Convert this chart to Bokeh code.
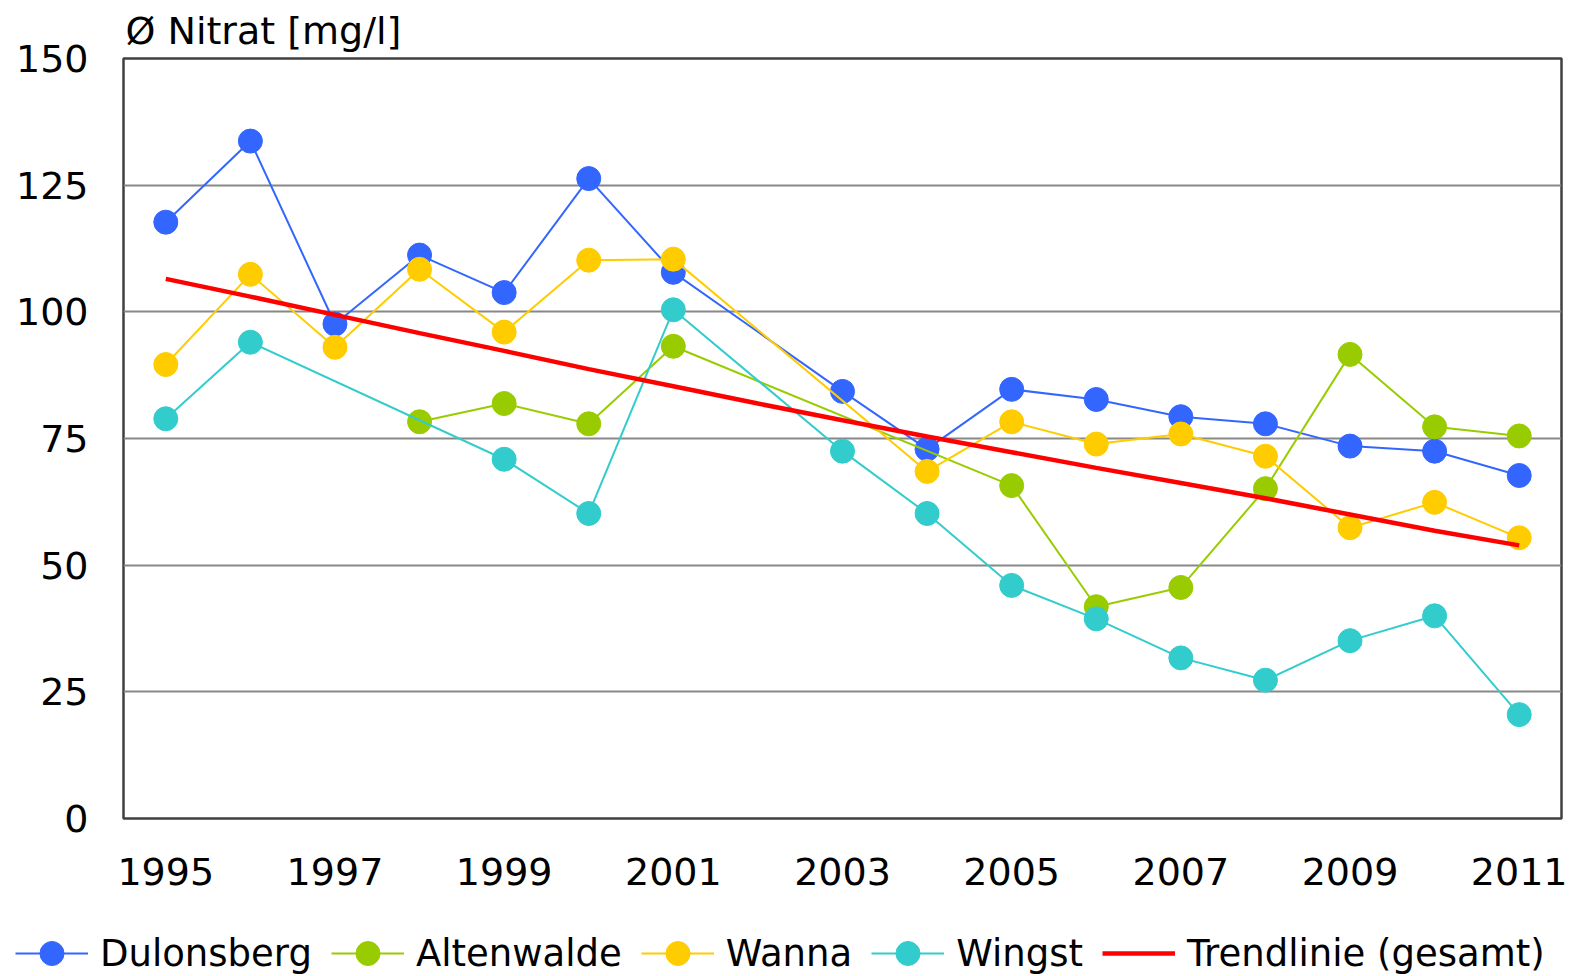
from bokeh.plotting import figure
from bokeh.models import FixedTicker, Legend, LegendItem, Range1d
from bokeh.embed import file_html
from bokeh.resources import INLINE

years = list(range(1995, 2012))
dulonsberg = [117.7, 133.7, 97.6, 111.2, 103.8, 126.3, 107.8, None, 84.3, 72.9, 84.7, 82.7, 79.3, 77.9, 73.5, 72.5, 67.7]
altenwalde = [None, None, None, 78.3, 81.9, 77.9, 93.2, None, None, None, 65.7, 41.8, 45.6, 65.1, 91.6, 77.3, 75.5]
wanna = [89.6, 107.4, 93.0, 108.4, 96.0, 110.2, 110.4, None, None, 68.5, 78.3, 73.9, 75.9, 71.5, 57.4, 62.4, 55.4]
wingst = [78.9, 94.0, None, None, 70.9, 60.2, 100.4, None, 72.5, 60.2, 46.0, 39.4, 31.7, 27.3, 35.1, 40.0, 20.5]
trend = [106.5, 103.0, 99.4, 95.8, 92.3, 88.7, 85.3, 81.9, 78.6, 75.4, 72.3, 69.2, 66.2, 63.2, 60.0, 56.8, 53.9]

series_names = ["Dulonsberg", "Altenwalde", "Wanna", "Wingst"]
series_values = [dulonsberg, altenwalde, wanna, wingst]
series_colors = ["#3366FF", "#99CC00", "#FFCC00", "#33CCCC"]
trend_name = "Trendlinie (gesamt)"
trend_color = "#FF0000"
x_ticks = [1995, 1997, 1999, 2001, 2003, 2005, 2007, 2009, 2011]
y_ticks = [0, 25, 50, 75, 100, 125, 150]
title_text = "\u00d8 Nitrat [mg/l]"

FONT = "DejaVu Sans"
FS = "38px"
W = 1578

p = figure(width=W, height=905, output_backend="svg", toolbar_location=None,
           x_range=Range1d(1994.5, 2011.5), y_range=Range1d(0, 150),
           min_border_left=123, min_border_right=17, min_border_top=58,
           min_border_bottom=87)

p.title.text = title_text
p.title.text_font = FONT
p.title.text_font_size = FS
p.title.text_font_style = "normal"
p.title.text_color = "black"
p.title.align = "left"
p.title.offset = 2
p.title.standoff = 12

p.outline_line_color = "#404040"
p.outline_line_width = 2.5
p.background_fill_color = "white"
p.border_fill_color = "white"

p.xgrid.grid_line_color = None
p.ygrid.grid_line_color = "#888888"
p.ygrid.grid_line_width = 2
p.ygrid.ticker = FixedTicker(ticks=y_ticks)

p.xaxis.ticker = FixedTicker(ticks=x_ticks)
p.yaxis.ticker = FixedTicker(ticks=y_ticks)
for ax in (p.xaxis, p.yaxis):
    ax.axis_line_color = None
    ax.major_tick_line_color = None
    ax.minor_tick_line_color = None
    ax.major_label_text_font = FONT
    ax.major_label_text_font_size = FS
    ax.major_label_text_color = "black"
p.xaxis.major_label_standoff = 33
p.yaxis.major_label_standoff = 29

# legend strip: same series, drawn in a figure whose ranges keep the data out of view
lg = figure(width=W, height=71, output_backend="svg", toolbar_location=None,
            x_range=Range1d(0, 1), y_range=Range1d(0, 1),
            x_axis_location=None, y_axis_location=None,
            min_border=0, min_border_left=0, min_border_right=0,
            min_border_top=0, min_border_bottom=0, outline_line_color=None)
lg.grid.visible = False

items = []
for name, vals, col in zip(series_names, series_values, series_colors):
    xs = [y for y, v in zip(years, vals) if v is not None]
    ys = [v for v in vals if v is not None]
    p.line(xs, ys, line_color=col, line_width=2)
    p.scatter(xs, ys, size=24, marker="circle", fill_color=col, line_color=col)
    lr = lg.line(xs, ys, line_color=col, line_width=2)
    sr = lg.scatter(xs, ys, size=24, marker="circle", fill_color=col, line_color=col)
    items.append(LegendItem(label=name, renderers=[lr, sr]))

p.line(years, trend, line_color=trend_color, line_width=4.5)
tr = lg.line(years, trend, line_color=trend_color, line_width=4.5)
items.append(LegendItem(label=trend_name, renderers=[tr]))

legend = Legend(items=items, orientation="horizontal", location=(15, -7),
                glyph_width=73, glyph_height=60, label_standoff=12, spacing=19,
                padding=0, margin=0, border_line_color=None,
                background_fill_alpha=0, label_text_font=FONT,
                label_text_font_size="37px", label_text_color="black")
lg.add_layout(legend, "center")

open("out.html", "w").write(file_html([p, lg], INLINE))
